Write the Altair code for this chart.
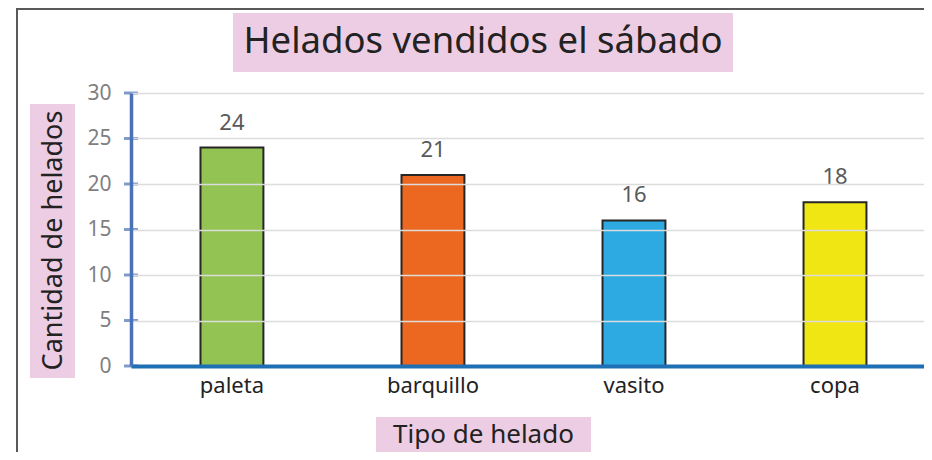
import altair as alt
import pandas as pd

categories = ["paleta", "barquillo", "vasito", "copa"]
values = [24, 21, 16, 18]
colors = ["#92C353", "#EC6820", "#2EAAE2", "#F0E614"]
y_ticks = [0, 5, 10, 15, 20, 25, 30]
title_text = "Helados vendidos el sábado"
x_title = "Tipo de helado"
y_title = "Cantidad de helados"

df = pd.DataFrame({"tipo": categories, "cantidad": values, "color": colors})
ticks_df = pd.DataFrame({"cantidad": y_ticks})
one = alt.Data(values=[{"k": 1}])

FONT = "Noto Sans"
PINK = "#EDCDE3"
W, H = 793, 273

x_enc = alt.X(
    "tipo:N", sort=categories,
    scale=alt.Scale(paddingInner=0.687, paddingOuter=0.316, align=0.547),
    axis=alt.Axis(
        title=x_title, titleX=352, titleY=76, titleAlign="center", titleBaseline="alphabetic",
        titleFontSize=26, titleFontWeight="normal", titleColor="#222222", titleFont=FONT,
        labelAngle=0, labelFontSize=22, labelColor="#222222", labelFont=FONT, labelPadding=9,
        ticks=False, domainColor="#1F6FB4", domainWidth=4, grid=False, zindex=1,
    ),
)
y_enc = alt.Y(
    "cantidad:Q",
    scale=alt.Scale(domain=[0, 30], nice=False),
    axis=alt.Axis(
        values=y_ticks, title=y_title, titleX=-78, titleY=147, titleAngle=270,
        titleAlign="center", titleBaseline="middle", titleFontSize=27, titleFontWeight="normal",
        titleColor="#222222", titleFont=FONT,
        labelFontSize=21, labelColor="#7F7F7F", labelFont=FONT, labelPadding=20,
        ticks=False, domainColor="#4A72B8", domainWidth=3.5,
        grid=True, gridColor="#DCDCDC", gridWidth=1.5, zindex=1,
    ),
)

frame = alt.Chart(one).mark_rect(filled=False, stroke="#595959", strokeWidth=2).encode(
    x=alt.value(-114), x2=alt.value(830), y=alt.value(-84), y2=alt.value(420)
)
title_box = alt.Chart(one).mark_rect(color=PINK).encode(
    x=alt.value(102), x2=alt.value(602), y=alt.value(-80), y2=alt.value(-21)
)
ytitle_box = alt.Chart(one).mark_rect(color=PINK).encode(
    x=alt.value(-101), x2=alt.value(-56), y=alt.value(11), y2=alt.value(285)
)
xtitle_box = alt.Chart(one).mark_rect(color=PINK).encode(
    x=alt.value(245), x2=alt.value(460), y=alt.value(324), y2=alt.value(400)
)

bars = alt.Chart(df).mark_bar(stroke="#262626", strokeWidth=2).encode(
    x=x_enc, y=y_enc, color=alt.Color("color:N", scale=None)
)
labels = alt.Chart(df).mark_text(
    dy=-25, baseline="middle", fontSize=22, color="#595959", font=FONT
).encode(x=x_enc, y=y_enc, text="cantidad:Q")
yticks = alt.Chart(ticks_df).mark_tick(
    orient="horizontal", size=14, thickness=3, color="#4A72B8"
).encode(y=y_enc, x=alt.value(0))

chart = alt.layer(frame, title_box, ytitle_box, xtitle_box, bars, labels, yticks).properties(
    width=W, height=H,
    title=alt.TitleParams(
        title_text, anchor="start", frame="group", align="center", dx=352, dy=70,
        baseline="middle", offset=0, fontSize=36.5, color="#222222", font=FONT,
        fontWeight="normal", zindex=1,
    ),
    autosize=alt.AutoSizeParams(type="none"),
    padding={"left": 123, "top": 85, "right": 0, "bottom": 86},
).configure_view(stroke=None)

chart.save("out.html", embed_options={"renderer": "svg", "actions": False})
